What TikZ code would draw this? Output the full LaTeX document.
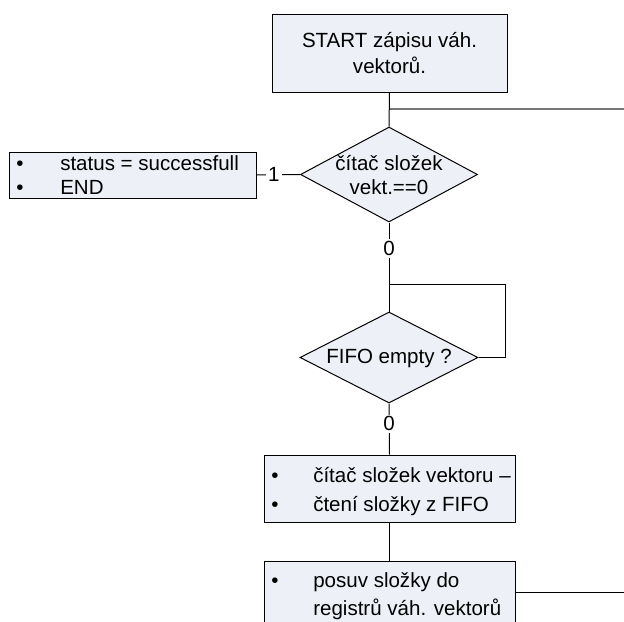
\documentclass[tikz,border=0pt]{standalone}
\usepackage{fontspec}
\setmainfont{Liberation Sans}
\usetikzlibrary{shapes.geometric}
\definecolor{boxfill}{RGB}{237,240,246}
\definecolor{branchgray}{RGB}{118,118,118}
\begin{document}
\begin{tikzpicture}[x=0.75pt,y=-0.75pt,
  every node/.style={font=\fontsize{15.4}{20}\selectfont},
  blk/.style={draw=black, fill=boxfill, line width=0.75pt, inner sep=0pt},
  dec/.style={diamond, draw=black, fill=boxfill, line width=0.75pt, inner sep=0pt},
  txt/.style={align=center, inner sep=0pt},
  list/.style={anchor=west, inner sep=0pt},
  lab/.style={fill=white, inner sep=1.5pt},
  wire/.style={draw=black, line width=0.75pt},
  branch/.style={draw=branchgray, line width=1.5pt}]
\clip (0,0) rectangle (624,621);

% start block
\node[blk, align=center, minimum width=176.25pt, minimum height=58.5pt] (start) at (389.5,53)
  {START zápisu váh.\\vektorů.};

% first decision and its "1" exit
\node[dec, minimum width=132.75pt, minimum height=71.25pt] (d1) at (389,174.5) {};
\node[txt, font=\fontsize{15.4}{18}\selectfont] (d1t) at (389,175) {čítač složek\\vekt.==0};

\node[blk, minimum width=185.25pt, minimum height=34.5pt] (done) at (132.5,175) {};
\node[list, font=\fontsize{15.4}{18}\selectfont] (donet) at (16,178)
  {\begin{tabular}{@{}p{33pt}@{}l@{}}\textbullet & status = successfull\\ \textbullet & END\end{tabular}};

% FIFO wait loop
\node[dec, minimum width=133.5pt, minimum height=68.25pt] (d2) at (389,357.5) {};
\node[txt] (d2t) at (389,358) {FIFO empty ?};

% action blocks
\node[blk, minimum width=188.25pt, minimum height=50.25pt] (act1) at (389.5,488.5) {};
\node[list, font=\fontsize{15.4}{21.75}\selectfont] (act1t) at (271,491)
  {\begin{tabular}{@{}p{31.5pt}@{}l@{}}\textbullet & čítač složek vektoru –\\ \textbullet & čtení složky z FIFO\end{tabular}};

\node[blk, minimum width=188.25pt, minimum height=60pt] (act2) at (389.5,601) {};
\node[list, font=\fontsize{15.4}{21}\selectfont] (act2t) at (271,596)
  {\begin{tabular}{@{}p{31.5pt}@{}l@{}}\textbullet & posuv složky do\\ & registrů váh. vektorů\end{tabular}};

% connectors
\coordinate (topR) at (630,109);
\coordinate (loopTR) at (505,284);
\coordinate (botR) at (630,592);

\draw[wire] (start.south) -- (d1.north);
\draw[branch] (start.south |- topR) -- (topR);
\draw[wire] (done.east) -- node[lab, pos=0.4] {1} (d1.west);
\draw[wire] (d1.south) -- node[lab, pos=0.29] {0} (d2.north);
\draw[wire] (d2.east) -| (loopTR) -- (loopTR -| d2.north);
\draw[wire] (d2.south) -- node[lab, pos=0.4] {0} (act1.north);
\draw[wire] (act1.south) -- (act2.north);
\draw[wire] (botR -| act2.east) -- (botR);
\end{tikzpicture}
\end{document}
